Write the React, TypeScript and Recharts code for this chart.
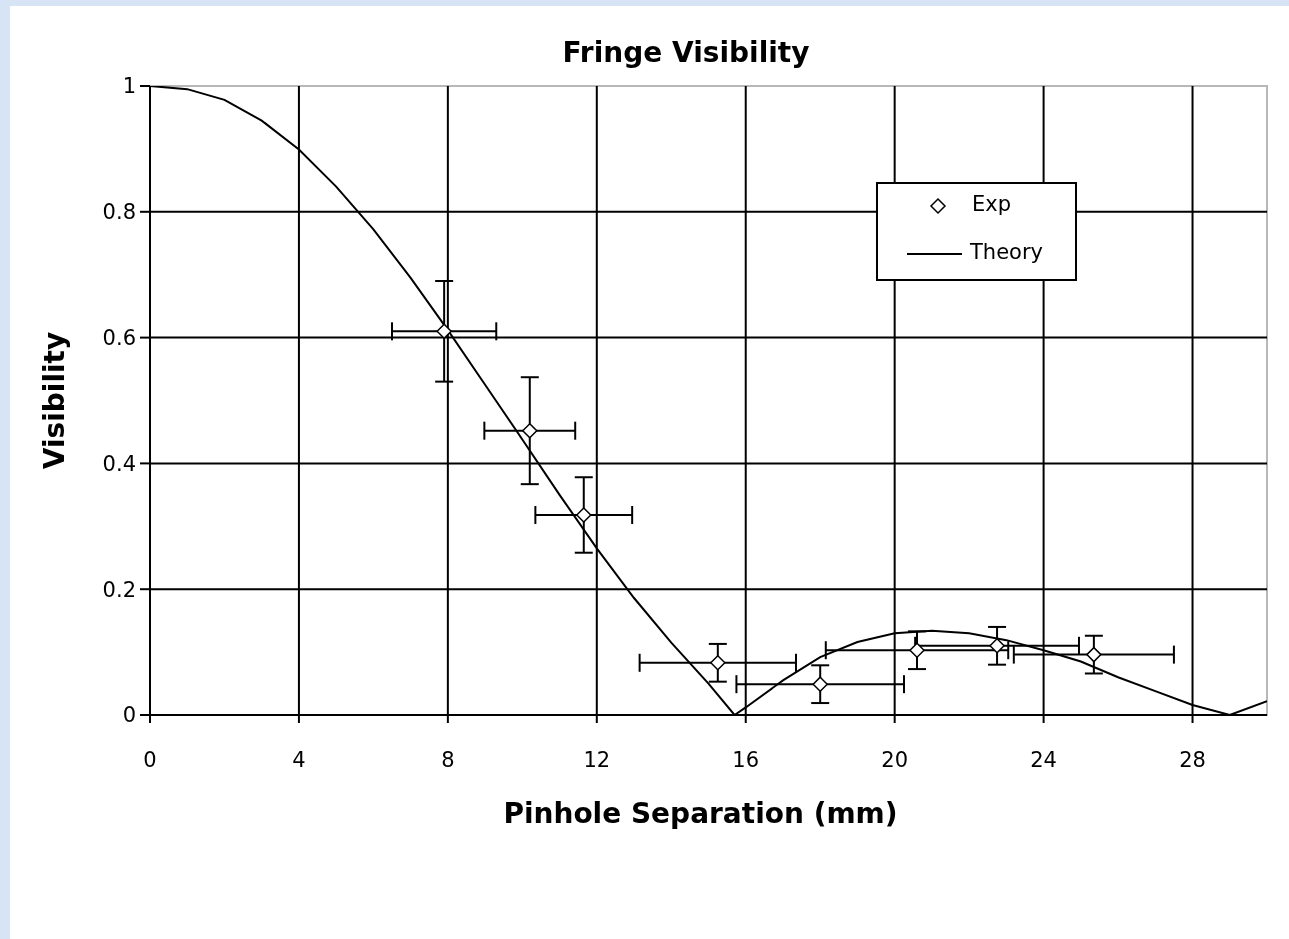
import {
  ComposedChart,
  Line,
  Scatter,
  ErrorBar,
  XAxis,
  YAxis,
  ReferenceLine,
  ReferenceArea,
  Legend,
} from "recharts";

// experimental points (mm, visibility) with error half-widths
const expX = [7.9, 10.2, 11.65, 15.25, 18.0, 20.6, 22.75, 25.35];
const expY = [0.61, 0.452, 0.318, 0.083, 0.049, 0.103, 0.11, 0.096];
const expXErr = [1.4, 1.22, 1.3, 2.1, 2.25, 2.45, 2.2, 2.15];
const expYErr = [0.08, 0.085, 0.06, 0.03, 0.03, 0.03, 0.03, 0.03];

// theory curve
const theoryX = [0, 1, 2, 3, 4, 5, 6, 7, 8, 9, 10, 11, 12, 13, 14, 15, 15.7, 16, 17, 18, 19, 20, 21, 22, 23, 24, 25, 26, 27, 28, 29, 30];
const theoryY = [1.0, 0.995, 0.978, 0.945, 0.899, 0.84, 0.772, 0.695, 0.612, 0.525, 0.438, 0.35, 0.265, 0.186, 0.115, 0.05, 0.0, 0.012, 0.055, 0.092, 0.116, 0.13, 0.134, 0.13, 0.119, 0.103, 0.085, 0.06, 0.038, 0.016, 0.0, 0.022];

const xTicks = [0, 4, 8, 12, 16, 20, 24, 28];
const yTicks = [0, 0.2, 0.4, 0.6, 0.8, 1];
const xGrid = [4, 8, 12, 16, 20, 24, 28];
const yGrid = [0.2, 0.4, 0.6, 0.8];

const expData = expX.map((x, i) => ({ x, y: expY[i], xErr: expXErr[i], yErr: expYErr[i] }));
const theoryData = theoryX.map((x, i) => ({ x, v: theoryY[i] }));

const FONT = "'DejaVu Sans', sans-serif";

const Diamond = (props: any) => {
  const { cx, cy } = props;
  if (cx == null || cy == null) return null;
  const r = 7;
  return (
    <path
      d={`M${cx},${cy - r} L${cx + r},${cy} L${cx},${cy + r} L${cx - r},${cy} Z`}
      fill="#fff"
      stroke="#000"
      strokeWidth={1.5}
    />
  );
};

const CustomLegend = () => (
  <div
    style={{
      width: 197,
      height: 95,
      border: "2px solid #000",
      background: "#fff",
      fontFamily: FONT,
      fontSize: 21,
      color: "#000",
      position: "relative",
    }}
  >
    <svg width={60} height={95} style={{ position: "absolute", left: 27, top: 0 }}>
      <path d="M33,15 L40,22 L33,29 L26,22 Z" fill="#fff" stroke="#000" strokeWidth={1.5} />
      <line x1={2} y1={70} x2={57} y2={70} stroke="#000" strokeWidth={2} />
    </svg>
    <span style={{ position: "absolute", left: 94, top: 8 }}>Exp</span>
    <span style={{ position: "absolute", left: 92, top: 56 }}>Theory</span>
  </div>
);

const XLabel = (props: any) => {
  const { viewBox } = props;
  return (
    <text
      x={viewBox.x + viewBox.width / 2 - 8}
      y={viewBox.y + 108}
      textAnchor="middle"
      fontFamily={FONT}
      fontWeight="bold"
      fontSize={28}
      fill="#000"
    >
      Pinhole Separation (mm)
    </text>
  );
};

const YLabel = (props: any) => {
  const { viewBox } = props;
  const cx = 44;
  const cy = viewBox.y + viewBox.height / 2;
  return (
    <text
      x={cx}
      y={cy}
      transform={`rotate(-90, ${cx}, ${cy})`}
      textAnchor="middle"
      dominantBaseline="central"
      fontFamily={FONT}
      fontWeight="bold"
      fontSize={28}
      fill="#000"
    >
      Visibility
    </text>
  );
};

export default function App() {
  return (
    <div style={{ position: "fixed", inset: 0, background: "#d6e4f5" }}>
      <div
        style={{
          position: "absolute",
          left: 10,
          top: 6,
          width: 1279,
          height: 933,
          background: "#fff",
        }}
      >
        <div
          style={{
            position: "absolute",
            left: 0,
            width: 1352,
            top: 30,
            textAlign: "center",
            fontFamily: FONT,
            fontWeight: "bold",
            fontSize: 28,
            color: "#000",
          }}
        >
          Fringe Visibility
        </div>
        <ComposedChart
          width={1279}
          height={933}
          margin={{ top: 80, right: 22, left: 0, bottom: 0 }}
        >
          <XAxis
            type="number"
            dataKey="x"
            domain={[0, 30]}
            ticks={xTicks}
            allowDataOverflow
            height={224}
            axisLine={{ stroke: "#000", strokeWidth: 2 }}
            tickLine={{ stroke: "#000", strokeWidth: 2 }}
            tickSize={8}
            tickMargin={29}
            tick={{ fill: "#000", fontSize: 21, fontFamily: FONT }}
            label={<XLabel />}
          />
          <YAxis
            type="number"
            domain={[0, 1]}
            ticks={yTicks}
            allowDataOverflow
            width={140}
            axisLine={{ stroke: "#000", strokeWidth: 2 }}
            tickLine={{ stroke: "#000", strokeWidth: 2 }}
            tickSize={10}
            tickMargin={4}
            tick={{ fill: "#000", fontSize: 21, fontFamily: FONT }}
            label={<YLabel />}
          />
          <ReferenceArea
            x1={0}
            x2={30}
            y1={0}
            y2={1}
            fill="none"
            stroke="#b8b8b8"
            strokeWidth={2}
          />
          {xGrid.map((v) => (
            <ReferenceLine key={`vx${v}`} x={v} stroke="#000" strokeWidth={2} />
          ))}
          {yGrid.map((v) => (
            <ReferenceLine key={`hy${v}`} y={v} stroke="#000" strokeWidth={2} />
          ))}
          <Legend
            layout="vertical"
            align="center"
            verticalAlign="middle"
            content={<CustomLegend />}
            wrapperStyle={{ left: 866, top: 176, width: 201, height: 99 }}
          />
          <Line
            data={theoryData}
            dataKey="v"
            type="linear"
            stroke="#000"
            strokeWidth={2}
            dot={false}
            activeDot={false}
            name="Theory"
            isAnimationActive={false}
          />
          <Scatter
            data={expData}
            dataKey="y"
            name="Exp"
            shape={<Diamond />}
            isAnimationActive={false}
          >
            <ErrorBar dataKey="xErr" direction="x" width={9} stroke="#000" strokeWidth={2} isAnimationActive={false} />
            <ErrorBar dataKey="yErr" direction="y" width={9} stroke="#000" strokeWidth={2} isAnimationActive={false} />
          </Scatter>
        </ComposedChart>
      </div>
    </div>
  );
}
